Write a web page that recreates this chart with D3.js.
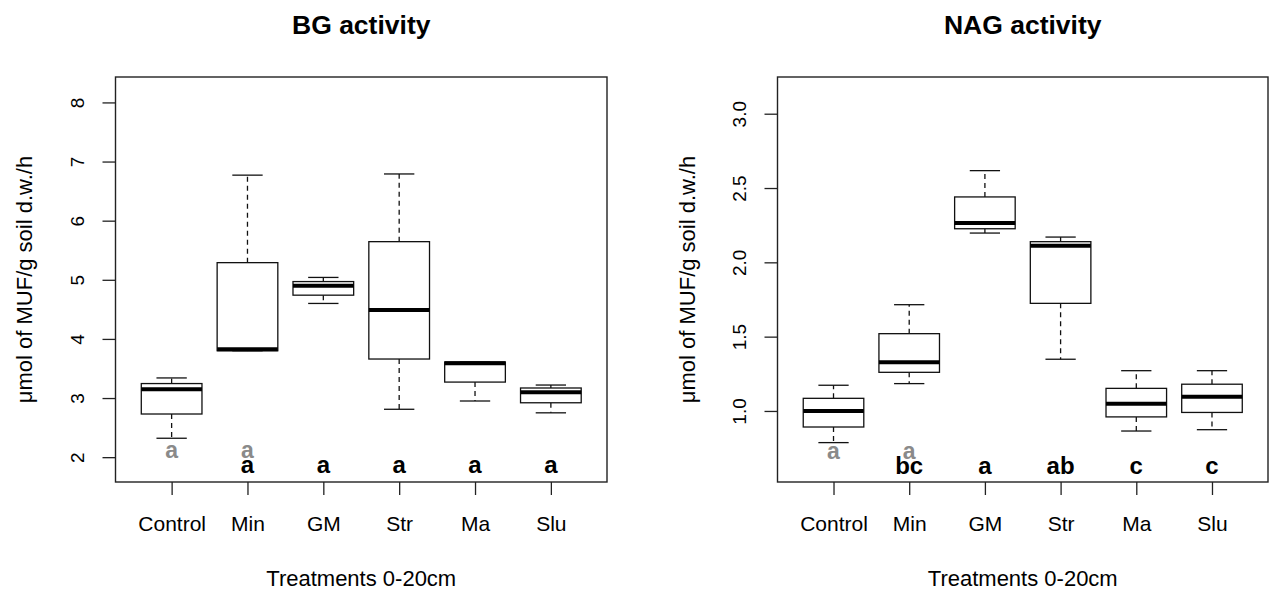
<!DOCTYPE html>
<html>
<head>
<meta charset="utf-8">
<script src="https://cdn.jsdelivr.net/npm/d3@7"></script>
<style>
  body { margin: 0; background: #fff; }
  svg text { font-family: "Liberation Sans", Arial, sans-serif; fill: #000; }
</style>
</head>
<body>
<div id="chart"></div>
<script>
// treatments
var treatments = ["Control", "Min", "GM", "Str", "Ma", "Slu"];

// BG activity: whisker low, Q1, median, Q3, whisker high
var bgLow  = [2.32, 3.80, 4.60, 2.81, 2.95, 2.75];
var bgQ1   = [2.73, 3.80, 4.74, 3.66, 3.27, 2.92];
var bgMed  = [3.15, 3.825, 4.90, 4.49, 3.59, 3.10];
var bgQ3   = [3.245, 5.29, 4.97, 5.645, 3.61, 3.17];
var bgHigh = [3.34, 6.77, 5.04, 6.79, 3.61, 3.22];
var bgTicks = [2, 3, 4, 5, 6, 7, 8];
var bgGrey  = ["a", "a", "", "", "", ""];
var bgBlack = ["", "a", "a", "a", "a", "a"];

// NAG activity
var nagLow  = [0.787, 1.184, 2.197, 1.348, 0.865, 0.874];
var nagQ1   = [0.892, 1.26, 2.226, 1.724, 0.96, 0.99];
var nagMed  = [1.00, 1.327, 2.265, 2.112, 1.049, 1.096];
var nagQ3   = [1.085, 1.52, 2.44, 2.139, 1.152, 1.18];
var nagHigh = [1.173, 1.715, 2.617, 2.17, 1.271, 1.271];
var nagTicks = [1.0, 1.5, 2.0, 2.5, 3.0];
var nagGrey  = ["a", "a", "", "", "", ""];
var nagBlack = ["", "bc", "a", "ab", "c", "c"];

var svg = d3.select("#chart").append("svg")
    .attr("width", 1269)
    .attr("height", 592);

function drawPanel(opt) {
    var x = d3.scaleLinear().domain([0.26, 6.74]).range([opt.left, opt.right]);
    var y = d3.scaleLinear().domain(opt.yDomain).range([482, 77]);
    var g = svg.append("g");

    var rows = treatments.map(function(t, i) {
        return {name: t, i: i + 1, low: opt.low[i], q1: opt.q1[i], med: opt.med[i],
                q3: opt.q3[i], high: opt.high[i], grey: opt.grey[i], black: opt.black[i]};
    });

    // whiskers (dashed)
    g.selectAll(".whU").data(rows).enter().append("line")
        .attr("x1", d => x(d.i)).attr("x2", d => x(d.i))
        .attr("y1", d => y(d.q3)).attr("y2", d => y(d.high))
        .attr("stroke", "#111").attr("stroke-width", 1.3).attr("stroke-dasharray", "5,4");
    g.selectAll(".whL").data(rows).enter().append("line")
        .attr("x1", d => x(d.i)).attr("x2", d => x(d.i))
        .attr("y1", d => y(d.q1)).attr("y2", d => y(d.low))
        .attr("stroke", "#111").attr("stroke-width", 1.3).attr("stroke-dasharray", "5,4");

    // staples
    ["high", "low"].forEach(function(k) {
        g.selectAll(".st" + k).data(rows).enter().append("line")
            .attr("x1", d => x(d.i - 0.2)).attr("x2", d => x(d.i + 0.2))
            .attr("y1", d => y(d[k])).attr("y2", d => y(d[k]))
            .attr("stroke", "#111").attr("stroke-width", 1.3);
    });

    // boxes
    g.selectAll(".box").data(rows).enter().append("rect")
        .attr("x", d => x(d.i - 0.4))
        .attr("width", d => x(d.i + 0.4) - x(d.i - 0.4))
        .attr("y", d => y(d.q3))
        .attr("height", d => y(d.q1) - y(d.q3))
        .attr("fill", "#fff").attr("stroke", "#111").attr("stroke-width", 1.3);

    // medians
    g.selectAll(".med").data(rows).enter().append("line")
        .attr("x1", d => x(d.i - 0.4)).attr("x2", d => x(d.i + 0.4))
        .attr("y1", d => y(d.med)).attr("y2", d => y(d.med))
        .attr("stroke", "#000").attr("stroke-width", 4);

    // significance letters
    g.selectAll(".lg").data(rows).enter().append("text")
        .attr("x", d => x(d.i)).attr("y", y(opt.greyY))
        .attr("text-anchor", "middle").style("font-weight", "bold").style("font-size", "23px")
        .style("fill", "#8a8a8a")
        .text(d => d.grey);
    g.selectAll(".lb").data(rows).enter().append("text")
        .attr("x", d => x(d.i)).attr("y", y(opt.blackY))
        .attr("text-anchor", "middle").style("font-weight", "bold").style("font-size", "24px")
        .text(d => d.black);

    // frame
    g.append("rect")
        .attr("x", opt.left).attr("y", 77)
        .attr("width", opt.right - opt.left).attr("height", 482 - 77)
        .attr("fill", "none").attr("stroke", "#222").attr("stroke-width", 1.4);

    // x axis
    var xa = g.append("g").attr("transform", "translate(0,482)")
        .call(d3.axisBottom(x).tickValues([1, 2, 3, 4, 5, 6])
            .tickFormat(d => treatments[d - 1]).tickSize(13).tickSizeOuter(0));
    xa.select(".domain").remove();
    xa.selectAll("line").attr("stroke", "#222").attr("stroke-width", 1.3);
    xa.selectAll("text").attr("y", 49).attr("dy", null)
        .style("font-size", "21px").style("font-family", "Liberation Sans, Arial, sans-serif").attr("fill", "#000");

    // y axis
    var ya = g.append("g").attr("transform", "translate(" + opt.left + ",0)")
        .call(d3.axisLeft(y).tickValues(opt.ticks).tickFormat(opt.fmt).tickSize(13).tickSizeOuter(0));
    ya.select(".domain").remove();
    ya.selectAll("line").attr("stroke", "#222").attr("stroke-width", 1.3);
    ya.selectAll("text").attr("x", null).attr("dy", null)
        .attr("text-anchor", "middle")
        .attr("transform", "translate(-32,0) rotate(-90)")
        .style("font-size", "19px").style("font-family", "Liberation Sans, Arial, sans-serif").attr("fill", "#000");

    // titles
    svg.append("text")
        .attr("x", (opt.left + opt.right) / 2).attr("y", 34)
        .attr("text-anchor", "middle").style("font-weight", "bold").style("font-size", "26.5px")
        .text(opt.title);
    svg.append("text")
        .attr("x", (opt.left + opt.right) / 2).attr("y", 586)
        .attr("text-anchor", "middle").style("font-size", "22px")
        .text("Treatments 0-20cm");
    svg.append("text")
        .attr("transform", "translate(" + opt.ylabX + ",279.5) rotate(-90)")
        .attr("text-anchor", "middle").style("font-size", "22px")
        .text("\u03bcmol of MUF/g soil d.w./h");
}

drawPanel({
    left: 115.5, right: 607, yDomain: [1.58, 8.43],
    low: bgLow, q1: bgQ1, med: bgMed, q3: bgQ3, high: bgHigh,
    grey: bgGrey, black: bgBlack, greyY: 1.99, blackY: 1.735,
    ticks: bgTicks, fmt: d3.format("d"), title: "BG activity", ylabX: 32
});

drawPanel({
    left: 777.5, right: 1268, yDomain: [0.522, 3.247],
    low: nagLow, q1: nagQ1, med: nagMed, q3: nagQ3, high: nagHigh,
    grey: nagGrey, black: nagBlack, greyY: 0.677, blackY: 0.576,
    ticks: nagTicks, fmt: d3.format(".1f"), title: "NAG activity", ylabX: 695
});
</script>
</body>
</html>
